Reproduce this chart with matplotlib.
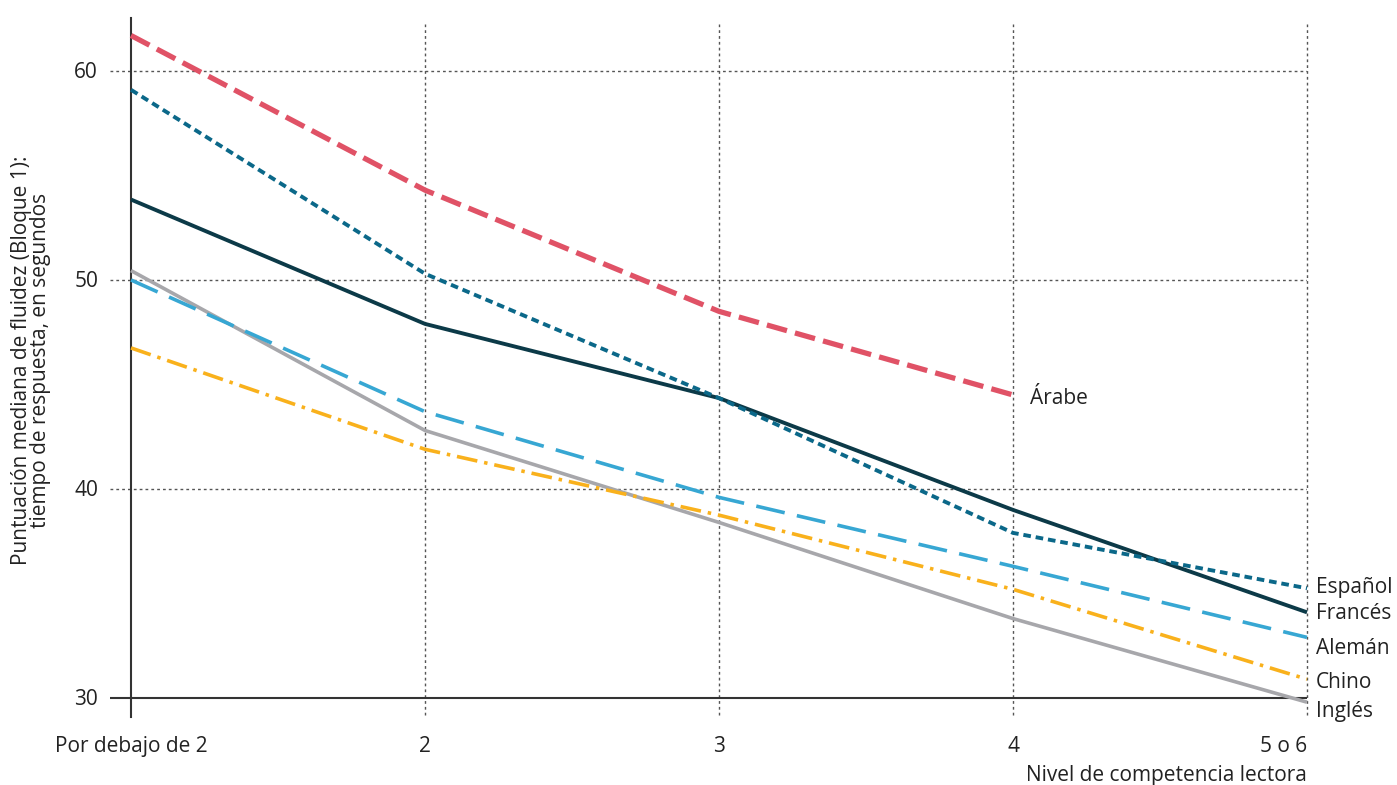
import matplotlib
matplotlib.use("Agg")
import matplotlib.pyplot as plt

plt.rcParams['font.family'] = ['Open Sans', 'DejaVu Sans']
plt.rcParams['lines.scale_dashes'] = False

levels = ["Por debajo de 2", "2", "3", "4", "5 o 6"]
arabe = [61.7, 54.3, 48.5, 44.5]
espanol = [59.1, 50.3, 44.35, 37.9, 35.25]
frances = [53.85, 47.9, 44.35, 39.0, 34.1]
aleman = [50.0, 43.7, 39.6, 36.3, 32.9]
chino = [46.75, 41.9, 38.75, 35.2, 30.9]
ingles = [50.45, 42.8, 38.4, 33.8, 29.8]
yticks = [30, 40, 50, 60]

FS = 15
TC = '#222222'

fig = plt.figure(figsize=(13.97, 7.85), dpi=100)
ax = fig.add_axes([110/1397, 1-715/785, (1307-110)/1397, (715-18)/785])
x0 = -21/294
ax.set_xlim(x0, 4)
ax.set_ylim(30 - 17/20.9, 60 + 53/20.9)
for s in ax.spines.values():
    s.set_visible(False)
ax.set_xticks([])
ax.set_yticks([])

# grid
for yv in yticks[1:]:
    ax.plot([x0, 4], [yv, yv], color='#555555', lw=1.0, ls=(0, (2, 2.2)), zorder=1)
for i in range(1, 5):
    ax.plot([i, i], [30 - 17/20.9, 60 + 47/20.9], color='#555555', lw=1.0, ls=(0, (2, 2.2)), zorder=1, clip_on=False)
ax.plot([x0, 4], [30, 30], color='#333333', lw=1.5, zorder=2)
ax.plot([0, 0], [30 - 19/20.9, 60 + 53/20.9], color='#333333', lw=1.5, zorder=2, clip_on=False)

xs = list(range(5))
common = dict(dash_capstyle='butt', solid_capstyle='butt', zorder=3, clip_on=False)
ax.plot(xs, ingles, color='#A7A7AB', lw=2.6, **common)
ax.plot(xs, chino, color='#F9B11C', lw=2.6, ls=(0, (15, 5, 2.5, 5)), **common)
ax.plot(xs, aleman, color='#37A7D3', lw=2.6, ls=(0, (21, 9)), **common)
ax.plot(xs, frances, color='#0C3A48', lw=2.8, **common)
ax.plot(xs, espanol, color='#0B6889', lw=2.8, ls=(0, (5.5, 3.5)), **common)
ax.plot(xs[:4], arabe, color='#E05266', lw=3.8, ls=(0, (15, 6)), **common)

# tick labels
for i, lab in enumerate(levels):
    ha = 'center' if i < 4 else 'right'
    ax.text(i, 30 - 49/20.9, lab, ha=ha, va='center', fontsize=FS, color=TC)
for yv in yticks:
    ax.text(x0 - 12/294, yv - 0.05, str(yv), ha='right', va='center', fontsize=FS, color=TC)
ax.text(4, 30 - 77/20.9, "Nivel de competencia lectora", ha='right', va='center', fontsize=FS, color=TC, clip_on=False)

ax.text(-100/294, 46.15, "Puntuación mediana de fluidez (Bloque 1):\ntiempo de respuesta, en segundos",
        rotation=90, ha='center', va='center', fontsize=FS, color=TC, linespacing=0.85, multialignment='center')

# series labels
ax.text(3 + 17/294, 44.35, "Árabe", ha='left', va='center', fontsize=FS, color=TC)
right_labels = [("Español", 35.3), ("Francés", 34.05), ("Alemán", 32.35), ("Chino", 30.75), ("Inglés", 29.35)]
for lab, yy in right_labels:
    ax.text(4 + 9/294, yy, lab, ha='left', va='center', fontsize=FS, color=TC, clip_on=False)

fig.savefig("out.png", dpi=100)
